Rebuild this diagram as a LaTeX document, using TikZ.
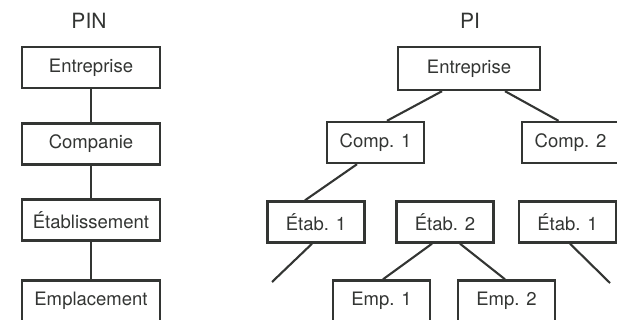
\documentclass[tikz,border=0pt]{standalone}
\usepackage{fontspec}
\setmainfont{TeX Gyre Heros}
\usepackage{tikz}
\usetikzlibrary{positioning}

\definecolor{ink}{HTML}{333533}
\tikzset{
  orgbox/.style={draw=ink, line width=2.4pt, text=ink, minimum width=#1, minimum height=41pt,
    inner sep=0pt, font=\fontsize{18.5}{20}\selectfont},
  orgbox/.default=97pt,
  link/.style={draw=ink, line width=2.1pt},
  title/.style={text=ink, font=\fontsize{21}{24}\selectfont}
}

\begin{document}
\begin{tikzpicture}[x=1pt,y=-1pt]
  \useasboundingbox (0,0) rectangle (617,320);
  % PIN
  \node[title] (pin) at (89,21) {PIN};
  \node[orgbox=138pt] (e)  at (91,67.5) {Entreprise};
  \node[orgbox=138pt] (c)  at (91,144)  {Companie};
  \node[orgbox=138pt] (et) at (91,220)  {Établissement};
  \node[orgbox=138pt] (em) at (91,301)  {Emplacement};
  \draw[link] (e) -- (c);
  \draw[link] (c) -- (et);
  \draw[link] (et) -- (em);

  % PI
  \node[title] (pi) at (470,21) {PI};
  \node[orgbox=142pt, minimum height=43pt] (pe) at (469,68.5) {Entreprise};
  \node[orgbox] (c1) at (375.5,142.5) {Comp. 1};
  \node[orgbox] (c2) at (570.5,142.5) {Comp. 2};
  \node[orgbox] (t1) at (316,222)   {Étab. 1};
  \node[orgbox] (t2) at (445,222)   {Étab. 2};
  \node[orgbox] (t3) at (567.5,222) {Étab. 1};
  \node[orgbox] (m1) at (381.5,301) {Emp. 1};
  \node[orgbox] (m2) at (506.5,301) {Emp. 2};
  \coordinate (f1) at (272,282);
  \coordinate (f3) at (610,283);

  \draw[link] ([xshift=-27pt]pe.south) -- ([xshift=11.5pt]c1.north);
  \draw[link] ([xshift=36pt]pe.south)  -- ([xshift=-12pt]c2.north);
  \draw[link] ([xshift=-18.5pt]c1.south) -- ([xshift=-11pt]t1.north);
  \draw[link] ([xshift=-4pt]t1.south) -- (f1);
  \draw[link] ([xshift=-13pt]t2.south) -- ([xshift=1.5pt]m1.north);
  \draw[link] ([xshift=15pt]t2.south)  -- ([xshift=-1.5pt]m2.north);
  \draw[link] ([xshift=2.5pt]t3.south) -- (f3);
\end{tikzpicture}
\end{document}
